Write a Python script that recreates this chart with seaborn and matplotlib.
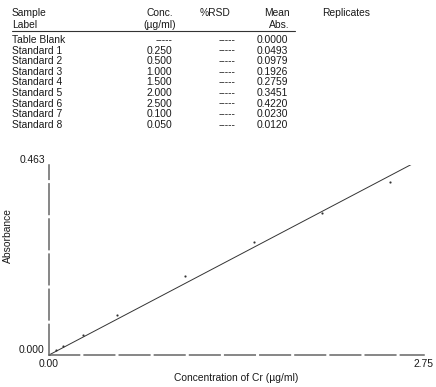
import matplotlib
matplotlib.use("Agg")
import matplotlib.pyplot as plt
from matplotlib.lines import Line2D
import seaborn as sns
import numpy as np
import pandas as pd

# ---- data ----
sample_labels = ["Table Blank", "Standard 1", "Standard 2", "Standard 3", "Standard 4",
                 "Standard 5", "Standard 6", "Standard 7", "Standard 8"]
conc_labels = ["-----", "0.250", "0.500", "1.000", "1.500", "2.000", "2.500", "0.100", "0.050"]
rsd_labels = ["-----"] * 9
abs_labels = ["0.0000", "0.0493", "0.0979", "0.1926", "0.2759", "0.3451", "0.4220", "0.0230", "0.0120"]
conc = [0.0, 0.25, 0.5, 1.0, 1.5, 2.0, 2.5, 0.1, 0.05]
mean_abs = [0.0, 0.0493, 0.0979, 0.1926, 0.2759, 0.3451, 0.4220, 0.0230, 0.0120]
x_ticks = [0.0, 2.75]
x_tick_labels = ["0.00", "2.75"]
y_ticks = [0.0, 0.463]
y_tick_labels = ["0.000", "0.463"]

df = pd.DataFrame({"conc": conc, "abs": mean_abs})

sns.set_theme(style="white")
plt.rcParams['font.family'] = ['Liberation Sans', 'DejaVu Sans']

W, H = 436, 387
fig = plt.figure(figsize=(W / 100, H / 100), dpi=100)
fig.patch.set_facecolor("white")

def P(x, y):
    return (x / W, 1 - y / H)

FS = 7.4
TC = "#1a1a1a"

# ---- table header ----
fig.text(*P(12, 13), "Sample", fontsize=FS, color=TC, va="center", ha="left")
fig.text(*P(12, 25), "Label", fontsize=FS, color=TC, va="center", ha="left")
fig.text(*P(173, 13), "Conc.", fontsize=FS, color=TC, va="center", ha="right")
fig.text(*P(176, 25), "(µg/ml)", fontsize=FS, color=TC, va="center", ha="right")
fig.text(*P(200, 13), "%RSD", fontsize=FS, color=TC, va="center", ha="left")
fig.text(*P(290, 13), "Mean", fontsize=FS, color=TC, va="center", ha="right")
fig.text(*P(290, 25), "Abs.", fontsize=FS, color=TC, va="center", ha="right")
fig.text(*P(322, 13), "Replicates", fontsize=FS, color=TC, va="center", ha="left")
x0, y0 = P(12, 31)
x1, _ = P(295, 31)
fig.add_artist(Line2D([x0, x1], [y0, y0], color="#333333", lw=0.8))

row_y0, row_dy = 40, 10.6
for i in range(len(sample_labels)):
    yy = row_y0 + i * row_dy
    fig.text(*P(12, yy), sample_labels[i], fontsize=FS, color=TC, va="center", ha="left")
    fig.text(*P(172, yy), conc_labels[i], fontsize=FS, color=TC, va="center", ha="right")
    fig.text(*P(227, yy), rsd_labels[i], fontsize=FS, color=TC, va="center", ha="center")
    fig.text(*P(288, yy), abs_labels[i], fontsize=FS, color=TC, va="center", ha="right")

# ---- calibration plot ----
L, R, T, B = 49, 424, 165, 355
ax = fig.add_axes([L / W, 1 - B / H, (R - L) / W, (B - T) / H])
ax.set_facecolor("white")

# least-squares calibration line through the origin
slope = float(np.sum(df["conc"] * df["abs"]) / np.sum(df["conc"] ** 2))
xs = np.linspace(0, x_ticks[-1], 80)
fit = pd.DataFrame({"x": xs, "y": slope * xs})
sns.lineplot(data=fit, x="x", y="y", ax=ax, color="#333333", lw=0.7)
sns.scatterplot(data=df, x="conc", y="abs", ax=ax, s=2, color="#333333", edgecolor=None)

ax.set_xlim(x_ticks[0], x_ticks[-1])
ax.set_ylim(y_ticks[0], y_ticks[-1])
ax.set_xticks(x_ticks, x_tick_labels)
ax.set_yticks(y_ticks, y_tick_labels)
ax.tick_params(axis="both", length=0, labelsize=FS, colors=TC, pad=3)
ylbls = ax.get_yticklabels()
ylbls[0].set_verticalalignment("bottom")
ylbls[1].set_verticalalignment("bottom")
ax.set_xlabel("Concentration of Cr (µg/ml)", fontsize=FS, color=TC, labelpad=3)
ax.set_ylabel("Absorbance", fontsize=FS, color=TC)
ax.yaxis.set_label_coords(-0.096, 0.63)

for s in ["top", "right"]:
    ax.spines[s].set_visible(False)
for s in ["left", "bottom"]:
    ax.spines[s].set_visible(True)
    ax.spines[s].set_color("#666666")
    ax.spines[s].set_linewidth(1.1)
    ax.spines[s].set_linestyle((0, (20, 3)))

fig.savefig("out.png", dpi=100, facecolor="white")
